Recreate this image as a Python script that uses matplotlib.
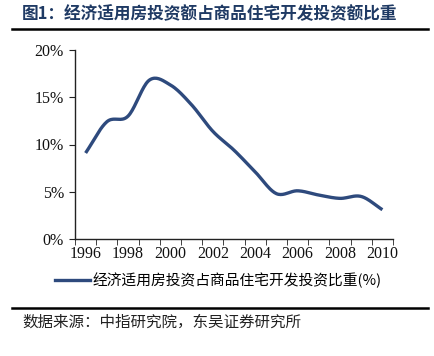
import numpy as np
import matplotlib.pyplot as plt
from matplotlib.lines import Line2D
from matplotlib import font_manager

plt.rcParams['font.family'] = ['Noto Sans CJK SC', 'DejaVu Sans']

# data
years = [str(y) for y in range(1996, 2011)]
share = [9.1, 12.4, 13.0, 16.8, 16.3, 14.2, 11.4, 9.4, 7.1, 4.8, 5.1, 4.65, 4.3, 4.5, 3.1]
legend_label = '经济适用房投资占商品住宅开发投资比重(%)'
title = '图1：经济适用房投资额占商品住宅开发投资额比重'
source = '数据来源：中指研究院，东吴证券研究所'

line_color = '#2E4A7D'
title_color = '#1F3A64'


def smooth(x, y, n=20):
    # catmull-rom curve through the points (like a smoothed excel line)
    x = np.asarray(x, float)
    y = np.asarray(y, float)
    px = np.concatenate([[2 * x[0] - x[1]], x, [2 * x[-1] - x[-2]]])
    py = np.concatenate([[2 * y[0] - y[1]], y, [2 * y[-1] - y[-2]]])
    xs, ys = [], []
    t = np.linspace(0, 1, n, endpoint=False)
    for i in range(1, len(px) - 2):
        for p, out in ((px, xs), (py, ys)):
            p0, p1, p2, p3 = p[i - 1], p[i], p[i + 1], p[i + 2]
            out.extend(0.5 * (2 * p1 + (-p0 + p2) * t
                              + (2 * p0 - 5 * p1 + 4 * p2 - p3) * t ** 2
                              + (-p0 + 3 * p1 - 3 * p2 + p3) * t ** 3))
    xs.append(x[-1])
    ys.append(y[-1])
    return np.array(xs), np.array(ys)


fig = plt.figure(figsize=(4.34, 3.56), dpi=100)
ax = fig.add_axes([75 / 434, 1 - 239 / 356, 318 / 434, 189 / 356])

xi = np.arange(len(years))
sx, sy = smooth(xi, np.array(share) / 100)
ax.plot(sx, sy, color=line_color, lw=2.4, solid_capstyle='butt')

ax.set_xlim(-0.5, len(years) - 0.5)
ax.set_ylim(0, 0.20)
ax.set_yticks([0, 0.05, 0.10, 0.15, 0.20])
ax.set_xticks(xi[::2])
ax.set_xticks(np.arange(-0.5, len(years)), minor=True)

serif = font_manager.FontProperties(family=['Liberation Serif', 'DejaVu Serif'], size=11.5)
ax.set_yticklabels(['0%', '5%', '10%', '15%', '20%'], fontproperties=serif, color='#111111')
ax.set_xticklabels(years[::2], fontproperties=serif, color='#111111')

for s in ['top', 'right']:
    ax.spines[s].set_visible(False)
for s in ['left', 'bottom']:
    ax.spines[s].set_color('#222222')
    ax.spines[s].set_linewidth(1.0)

ax.tick_params(axis='x', which='major', length=0, pad=5)
ax.tick_params(axis='x', which='minor', length=4, direction='out', color='#222222')
ax.tick_params(axis='y', length=4, direction='out', color='#222222', pad=4)

# legend
h = Line2D([], [], color=line_color, lw=2.4)
fig.legend([h], [legend_label], loc='center', bbox_to_anchor=(218 / 434, 1 - 280 / 356),
           frameon=False, handlelength=2.4, handletextpad=0.15,
           prop={'family': ['Noto Sans CJK SC', 'DejaVu Sans'], 'size': 10.6})

# title and source
fig.text(22 / 434, 1 - 14 / 356, title, fontsize=12, fontweight='bold',
         color=title_color, va='center', ha='left')
fig.add_artist(Line2D([12 / 434, 428 / 434], [1 - 29 / 356] * 2, color='black', lw=1.8))
fig.add_artist(Line2D([12 / 434, 428 / 434], [1 - 308 / 356] * 2, color='black', lw=1.8))
fig.text(22 / 434, 1 - 322 / 356, source, fontsize=11.2, color='#222222',
         va='center', ha='left')

fig.savefig('out.png', dpi=100, facecolor='white')
